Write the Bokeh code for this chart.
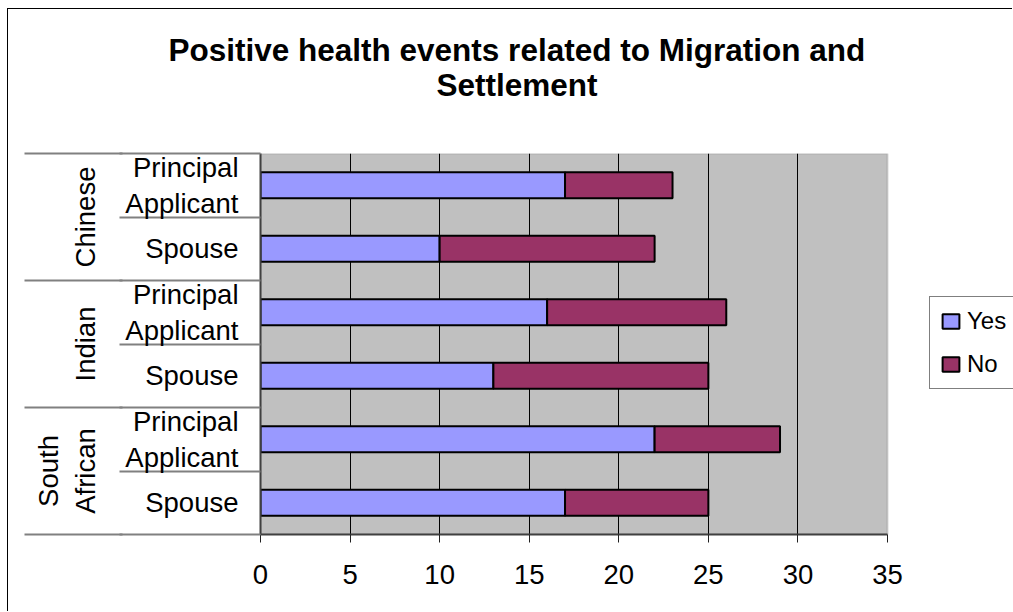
from bokeh.plotting import figure
from bokeh.models import (ColumnDataSource, Range1d, FixedTicker, LinearAxis,
                          Legend, LegendItem, Title, BoxAnnotation)
from bokeh.embed import file_html
from bokeh.resources import INLINE

# ---- data -------------------------------------------------------------
title_lines = ["Positive health events related to Migration and", "Settlement"]
groups = ["Chinese", "Indian", "South African"]
roles = ["Principal Applicant", "Spouse"]
series = ["Yes", "No"]
yes_counts = [17, 10, 16, 13, 22, 17]
no_counts = [6, 12, 10, 12, 7, 8]
x_ticks = [0, 5, 10, 15, 20, 25, 30, 35]

# ---- style / layout ---------------------------------------------------
FONT = "Liberation Sans"
COLORS = ["#9999FF", "#993366"]
OX, OY = 8, 9                      # page offset of the canvas inside its border
W, H = 1013 - OX, 612 - OY
LEFT, RIGHT, TOP, BOTTOM = 260 - OX, 887 - OX, 153 - OY, 534 - OY   # plot area

rows = [(g, r) for g in groups for r in roles]
n = len(rows)
row_y = [n - 0.5 - i for i in range(n)]
per = len(roles)
group_y = [n - per * (i + 0.5) for i in range(len(groups))]

# the frame runs to the right edge so the legend beside the plot area stays visible
x_lo, x_hi = x_ticks[0], x_ticks[-1]
x_end = x_lo + (x_hi - x_lo) * (W - LEFT) / (RIGHT - LEFT)

src = ColumnDataSource(dict(y=row_y, Yes=yes_counts, No=no_counts))

p = figure(width=W, height=H,
           x_range=Range1d(x_lo, x_end), y_range=Range1d(0, n),
           output_backend="svg", toolbar_location=None,
           min_border_left=LEFT, min_border_right=0,
           min_border_top=TOP, min_border_bottom=H - BOTTOM)
p.styles = {"margin-left": f"{OX - 1}px", "margin-top": f"{OY - 1}px",
            "border-left": "1px solid black", "border-top": "1px solid black"}

p.background_fill_color = "white"
p.border_fill_color = "white"
p.outline_line_color = None

# grey plot area with its border
p.add_layout(BoxAnnotation(left=x_lo, right=x_hi, bottom=0, top=n,
                           fill_color="#C0C0C0", fill_alpha=1,
                           line_color="#808080", line_width=2, level="image"))

bars = p.hbar_stack(series, y="y", height=0.41, source=src,
                    fill_color=COLORS, line_color="black", line_width=2)

# value axis
xa = p.xaxis[0]
xa.bounds = (x_lo, x_hi)
xa.ticker = FixedTicker(ticks=x_ticks)
xa.major_label_text_font = FONT
xa.major_label_text_font_size = "27.5px"
xa.major_label_text_color = "black"
xa.axis_line_color = "#404040"
xa.axis_line_width = 2
xa.major_tick_in = 0
xa.major_tick_out = 8
xa.major_tick_line_color = "#202020"
xa.minor_tick_line_color = None
xa.major_label_standoff = 22

# inner category axis: role labels; its minor ticks draw the row separators
ROW_SEP = 141
ya = p.yaxis[0]
ya.ticker = FixedTicker(ticks=row_y, minor_ticks=list(range(n + 1)))
ya.major_label_overrides = {y: r.replace(" ", "\n") for (g, r), y in zip(rows, row_y)}
ya.major_label_text_font = FONT
ya.major_label_text_font_size = "27.5px"
ya.major_label_text_line_height = 1.17
ya.major_label_text_color = "black"
ya.major_label_standoff = 22 - ROW_SEP
ya.axis_line_color = "#404040"
ya.axis_line_width = 2
ya.major_tick_in = 0
ya.major_tick_out = 0
ya.minor_tick_in = 0
ya.minor_tick_out = ROW_SEP
ya.minor_tick_line_color = "#808080"
ya.minor_tick_line_width = 2

# outer category axis: group labels; its minor ticks draw the group separators
GROUP_SEP = 98
ga = LinearAxis(ticker=FixedTicker(ticks=group_y, minor_ticks=list(range(0, n + 1, per))),
                major_label_overrides={y: g.replace(" ", "\n") for g, y in zip(groups, group_y)},
                major_label_orientation="vertical",
                major_label_text_font=FONT, major_label_text_font_size="27.5px",
                major_label_text_line_height=1.17, major_label_text_color="black",
                major_label_standoff=22 - GROUP_SEP,
                axis_line_color=None,
                major_tick_in=0, major_tick_out=0,
                minor_tick_in=0, minor_tick_out=GROUP_SEP,
                minor_tick_line_color="#808080", minor_tick_line_width=2)
p.add_layout(ga, "left")

p.xgrid.ticker = FixedTicker(ticks=x_ticks[1:-1])
p.xgrid.grid_line_color = "black"
p.xgrid.grid_line_width = 1
p.ygrid.grid_line_color = None

# two-line title: nearer line first, the outer line pulled down over it
TITLE_SIZE = "31.5px"
p.add_layout(Title(text=title_lines[1], align="left", offset=436 - 260,
                   standoff=102, vertical_align="bottom",
                   text_font=FONT, text_font_size=TITLE_SIZE,
                   text_font_style="bold", text_color="black"), "above")
p.add_layout(Title(text=title_lines[0], align="left", offset=168 - 260,
                   standoff=-108, vertical_align="bottom",
                   text_font=FONT, text_font_size=TITLE_SIZE,
                   text_font_style="bold", text_color="black"), "above")

legend = Legend(items=[LegendItem(label=s, renderers=[r]) for s, r in zip(series, bars)],
                location=(929 - 260, 534 - 389),
                orientation="vertical",
                border_line_color="black", border_line_width=1,
                background_fill_color="white", background_fill_alpha=1,
                padding=10, spacing=15, margin=0,
                glyph_width=21, glyph_height=18, label_height=28,
                label_standoff=6,
                label_text_font=FONT, label_text_font_size="24px",
                label_text_color="black")
p.add_layout(legend)

open("out.html", "w").write(file_html(p, INLINE))
